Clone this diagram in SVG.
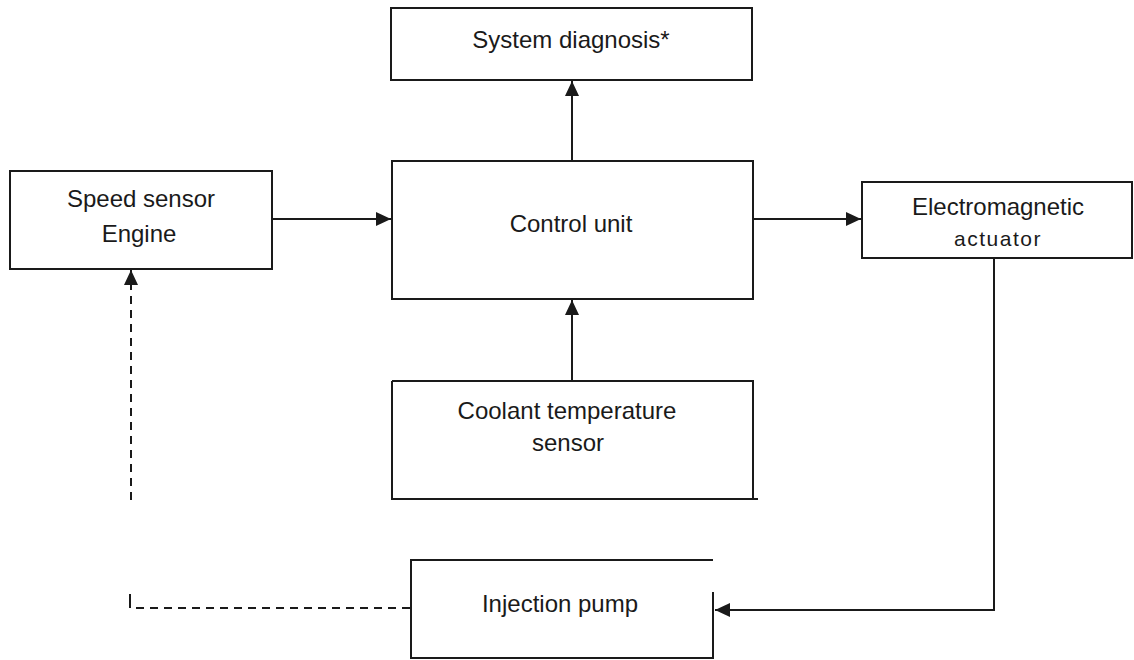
<svg xmlns="http://www.w3.org/2000/svg" width="1134" height="660" viewBox="0 0 1134 660">
<style>
.box{fill:none;stroke:#1a1a1a;stroke-width:2}
.t{font-family:"Liberation Sans",Arial,sans-serif;font-size:24px;fill:#1a1a1a;text-anchor:middle}
.s{font-size:21px;letter-spacing:1.5px}
.c{fill:none;stroke:#1a1a1a;stroke-width:2}
.d{stroke-dasharray:8 6}
</style>
<defs>
<marker id="ah" markerUnits="userSpaceOnUse" markerWidth="16" markerHeight="14" refX="15" refY="7" orient="auto">
<path d="M0,0 L15,7 L0,14 Z" fill="#1a1a1a"/>
</marker>
</defs>
<rect width="1134" height="660" fill="#fff"/>
<g id="diagnosis">
<rect class="box" x="391" y="8" width="361" height="72"/>
<text class="t" x="571" y="48">System diagnosis*</text>
</g>
<g id="control">
<rect class="box" x="392" y="161" width="361" height="138"/>
<text class="t" x="571" y="232">Control unit</text>
</g>
<g id="speed">
<rect class="box" x="10" y="171" width="262" height="98"/>
<text class="t" x="141" y="207">Speed sensor</text>
<text class="t" x="139" y="242">Engine</text>
</g>
<g id="actuator">
<rect class="box" x="862" y="182" width="270" height="76"/>
<text class="t" x="998" y="215">Electromagnetic</text>
<text class="t s" x="998" y="246">actuator</text>
</g>
<g id="coolant">
<path class="box" d="M392,381 H753 V499 M392,381 V499 H758"/>
<text class="t" x="567" y="419">Coolant temperature</text>
<text class="t" x="568" y="451">sensor</text>
</g>
<g id="pump">
<path class="box" d="M713,560 H411 V658 H713 V592"/>
<text class="t" x="560" y="612">Injection pump</text>
</g>
<g id="connectors">
<line class="c" x1="572" y1="161" x2="572" y2="81" marker-end="url(#ah)"/>
<line class="c" x1="272" y1="219" x2="391" y2="219" marker-end="url(#ah)"/>
<line class="c" x1="753" y1="219" x2="861" y2="219" marker-end="url(#ah)"/>
<line class="c" x1="572" y1="381" x2="572" y2="300" marker-end="url(#ah)"/>
<polyline class="c" points="994,258 994,610 715,610" marker-end="url(#ah)"/>
<polyline class="c d" points="410,608 130,608"/>
<line class="c" x1="130" y1="608" x2="130" y2="594"/>
<line class="c d" x1="131" y1="500" x2="131" y2="270" marker-end="url(#ah)"/>
</g>
</svg>
